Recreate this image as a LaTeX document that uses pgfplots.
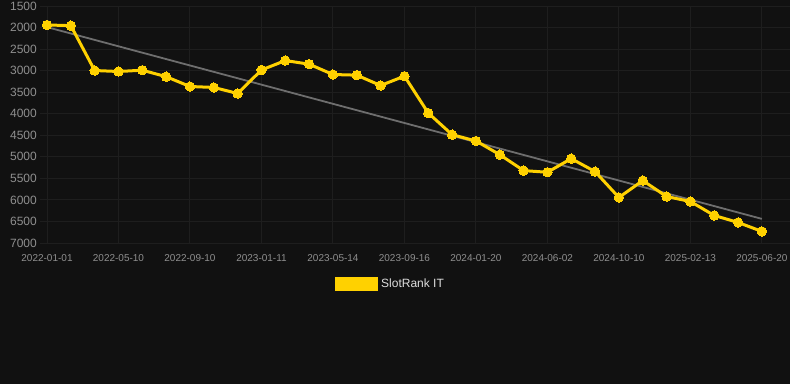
\documentclass[border=0pt]{standalone}
\usepackage{pgfplots}
\pgfplotsset{compat=1.18}
\usepackage{fontspec}
\setmainfont{Liberation Sans}
\definecolor{bg}{HTML}{111111}
\definecolor{gridc}{HTML}{1E1E1E}
\definecolor{ticklab}{HTML}{8F8F8F}
\definecolor{slotyellow}{HTML}{FFD100}
\definecolor{trendc}{HTML}{6E6E6E}
\definecolor{legtext}{HTML}{DDDDDD}
\begin{document}
\begin{tikzpicture}[x=1pt,y=1pt]
\path[use as bounding box, fill=bg] (0,0) rectangle (790,384);
\begin{axis}[
  at={(40pt,141pt)}, anchor=south west,
  scale only axis, width=750pt, height=237pt,
  xmin=-0.294, xmax=31.18,
  ymin=1500, ymax=7000, y dir=reverse,
  ytick={1500,2000,...,7000},
  xtick={0,3,...,30},
  xticklabels={2022-01-01,2022-05-10,2022-09-10,2023-01-11,2023-05-14,2023-09-16,2024-01-20,2024-06-02,2024-10-10,2025-02-13,2025-06-20},
  /pgf/number format/.cd, 1000 sep={}, assume math mode=true, /pgfplots/.cd,
  axis line style={draw=none},
  grid=major, grid style={draw=gridc, line width=1pt},
  major tick length=0pt,
  ticklabel style={text=ticklab},
  yticklabel style={font=\fontsize{12}{12}\selectfont, inner sep=0pt, xshift=-3pt},
  xticklabel style={font=\fontsize{10}{10}\selectfont, inner sep=0pt, yshift=-11pt},
  legend style={at={(0.4680,-0.173)}, anchor=center, draw=none, fill=none,
    text=legtext, font=\fontsize{12}{12}\selectfont, inner sep=0pt,
    nodes={inner xsep=3pt}},
  legend cell align=left,
  clip=false,
]
\addplot[draw=trendc, line width=1.8pt, forget plot] coordinates {(0,1990) (30,6440)};
\addplot[draw=slotyellow, line width=3pt, mark=*, mark size=4.7pt,
  mark options={fill=slotyellow, draw=slotyellow, line width=0pt},
  legend image code/.code={\fill[slotyellow] (0pt,-5.5pt) rectangle (40pt,5.5pt);}]
  coordinates {
  (0,1940) (1,1956) (2,2997) (3,3020) (4,2990) (5,3140) (6,3368) (7,3390)
  (8,3530) (9,2985) (10,2766) (11,2850) (12,3090) (13,3105) (14,3345)
  (15,3128) (16,3984) (17,4486) (18,4632) (19,4949) (20,5320) (21,5358)
  (22,5042) (23,5343) (24,5944) (25,5551) (26,5921) (27,6037) (28,6361)
  (29,6523) (30,6731)};
\addlegendentry{SlotRank IT}
\end{axis}
\end{tikzpicture}
\end{document}
